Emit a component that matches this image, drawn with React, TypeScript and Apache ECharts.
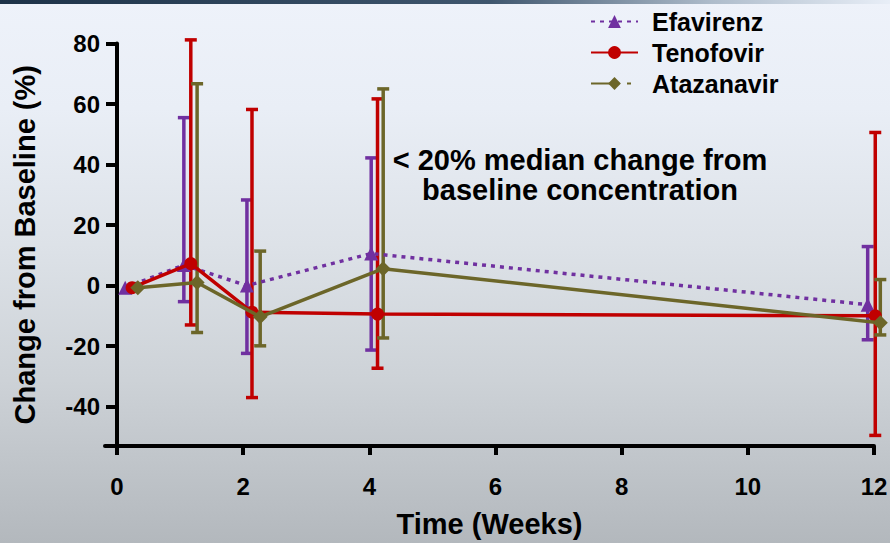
import React, { useEffect, useRef } from "react";
import * as echarts from "echarts";

// ---- Data ----
const seriesNames = ["Efavirenz", "Tenofovir", "Atazanavir"];

const efavirenzX = [0.13, 1.06, 2.06, 4.03, 11.9];
const efavirenzY = [-0.7, 6.8, 0, 10.6, -6.3];
const efavirenzLow = [null, -5.3, -22.4, -21.3, -17.9];
const efavirenzHigh = [null, 55.5, 28.3, 42.2, 12.9];

const tenofovirX = [0.24, 1.17, 2.14, 4.13, 12.02];
const tenofovirY = [-0.7, 7.3, -8.8, -9.4, -10];
const tenofovirLow = [null, -13, -37, -27.3, -49.5];
const tenofovirHigh = [null, 81.2, 58.2, 61.7, 50.6];

const atazanavirX = [0.33, 1.27, 2.27, 4.22, 12.1];
const atazanavirY = [-0.7, 1, -10.3, 5.6, -12.3];
const atazanavirLow = [null, -15.5, -19.9, -17.3, -16.3];
const atazanavirHigh = [null, 66.7, 11.4, 65, 2];

const xTicks = [0, 2, 4, 6, 8, 10, 12];
const yTicks = [-40, -20, 0, 20, 40, 60, 80];

const colors = ["#7030a0", "#c00000", "#6c6629"];

const FONT = "'Liberation Sans', Arial, Helvetica, sans-serif";

function pts(xs: number[], ys: number[]) {
  return xs.map((x, i) => [x, ys[i]]);
}
function errs(xs: number[], lo: (number | null)[], hi: (number | null)[]) {
  const out: number[][] = [];
  xs.forEach((x, i) => {
    if (lo[i] != null && hi[i] != null) out.push([x, lo[i] as number, hi[i] as number]);
  });
  return out;
}

function errorSeries(name: string, data: number[][], color: string) {
  return {
    type: "custom",
    name,
    data,
    z: 2,
    clip: false,
    encode: { x: 0, y: [1, 2] },
    renderItem: (params: any, api: any) => {
      const x = api.value(0);
      const lo = api.value(1);
      const hi = api.value(2);
      const pTop = api.coord([x, hi]);
      const pBot = api.coord([x, lo]);
      const hw = 6;
      const style = { stroke: color, lineWidth: 3.5, fill: null };
      return {
        type: "group",
        children: [
          { type: "line", shape: { x1: pTop[0], y1: pTop[1], x2: pBot[0], y2: pBot[1] }, style },
          { type: "line", shape: { x1: pTop[0] - hw, y1: pTop[1], x2: pTop[0] + hw, y2: pTop[1] }, style },
          { type: "line", shape: { x1: pBot[0] - hw, y1: pBot[1], x2: pBot[0] + hw, y2: pBot[1] }, style },
        ],
      };
    },
  };
}

export default function App() {
  const ref = useRef<HTMLDivElement>(null);

  useEffect(() => {
    if (!ref.current) return;
    const chart = echarts.init(ref.current, null, { renderer: "svg" });
    const option: any = {
      animation: false,
      backgroundColor: "transparent",
      textStyle: { fontFamily: FONT },
      grid: { left: 105, right: 16, top: 43.5, bottom: 97, outerBoundsMode: "none" },
      legend: {
        orient: "vertical",
        left: 585,
        top: 4,
        itemWidth: 47,
        itemHeight: 16,
        itemGap: 6,
        selectedMode: false,
        data: [
          { name: "Efavirenz" },
          { name: "Tenofovir" },
          { name: "Atazanavir", lineStyle: { type: [20, 16, 4, 30] } },
        ],
        textStyle: {
          fontFamily: FONT,
          fontSize: 25,
          fontWeight: "bold",
          color: "#000",
          lineHeight: 25,
          padding: [0, 0, 0, 9],
        },
      },
      xAxis: {
        type: "value",
        min: -0.19,
        max: 12,
        name: "Time (Weeks)",
        nameLocation: "middle",
        nameGap: 63,
        nameMoveOverlap: false,
        nameTextStyle: { fontFamily: FONT, fontSize: 29, fontWeight: "bold", color: "#000" },
        axisLine: { onZero: false, lineStyle: { color: "#000", width: 4 } },
        axisTick: { show: true, customValues: xTicks, length: 9, lineStyle: { color: "#000", width: 4 } },
        axisLabel: {
          customValues: xTicks,
          margin: 28,
          fontFamily: FONT,
          fontSize: 24,
          fontWeight: "bold",
          color: "#000",
        },
        splitLine: { show: false },
      },
      yAxis: {
        type: "value",
        min: -53,
        max: 80,
        name: "Change from Baseline (%)",
        nameLocation: "middle",
        nameGap: 66,
        nameMoveOverlap: false,
        nameTextStyle: { fontFamily: FONT, fontSize: 29, fontWeight: "bold", color: "#000" },
        axisLine: { onZero: true, lineStyle: { color: "#000", width: 4 } },
        axisTick: { show: true, customValues: yTicks, length: 11, lineStyle: { color: "#000", width: 4 } },
        axisLabel: {
          customValues: yTicks,
          margin: 5,
          fontFamily: FONT,
          fontSize: 24,
          fontWeight: "bold",
          color: "#000",
        },
        splitLine: { show: false },
      },
      graphic: [
        {
          type: "rect",
          left: 0,
          top: 0,
          shape: { width: 890, height: 4 },
          style: {
            fill: new echarts.graphic.LinearGradient(0, 0, 1, 0, [
              { offset: 0, color: "#1d3248" },
              { offset: 0.55, color: "#3f566e" },
              { offset: 0.8, color: "#aebccb" },
              { offset: 1, color: "#e8eef7" },
            ]),
          },
          silent: true,
        },
        {
          type: "text",
          x: 580,
          y: 175,
          style: {
            text: "< 20% median change from\nbaseline concentration",
            textAlign: "center",
            textVerticalAlign: "middle",
            fontFamily: FONT,
            fontSize: 29,
            fontWeight: "bold",
            lineHeight: 30,
            fill: "#000",
          },
          z: 10,
        },
      ],
      series: [
        errorSeries("Efavirenz error", errs(efavirenzX, efavirenzLow, efavirenzHigh), colors[0]),
        errorSeries("Tenofovir error", errs(tenofovirX, tenofovirLow, tenofovirHigh), colors[1]),
        errorSeries("Atazanavir error", errs(atazanavirX, atazanavirLow, atazanavirHigh), colors[2]),
        {
          type: "line",
          name: seriesNames[0],
          data: pts(efavirenzX, efavirenzY),
          z: 3,
          clip: false,
          symbol: "triangle",
          symbolSize: 14,
          color: colors[0],
          itemStyle: { color: colors[0] },
          lineStyle: { color: colors[0], width: 3.5, type: [4, 5] },
        },
        {
          type: "line",
          name: seriesNames[1],
          data: pts(tenofovirX, tenofovirY),
          z: 4,
          clip: false,
          symbol: "circle",
          symbolSize: 13,
          color: colors[1],
          itemStyle: { color: colors[1] },
          lineStyle: { color: colors[1], width: 3.5 },
        },
        {
          type: "line",
          name: seriesNames[2],
          data: pts(atazanavirX, atazanavirY),
          z: 5,
          clip: false,
          symbol: "diamond",
          symbolSize: 15,
          color: colors[2],
          itemStyle: { color: colors[2] },
          lineStyle: { color: colors[2], width: 3.5 },
        },
      ],
    };
    chart.setOption(option);
    return () => chart.dispose();
  }, []);

  return (
    <div
      style={{
        position: "absolute",
        left: 0,
        top: 0,
        width: 890,
        height: 543,
        background:
          "linear-gradient(to bottom, #eef2fa 0%, #e9eef6 20%, #dde2e8 45%, #cdd2d7 70%, #b3b8bd 100%)",
      }}
    >
      <div ref={ref} style={{ width: 890, height: 543 }} />
    </div>
  );
}
